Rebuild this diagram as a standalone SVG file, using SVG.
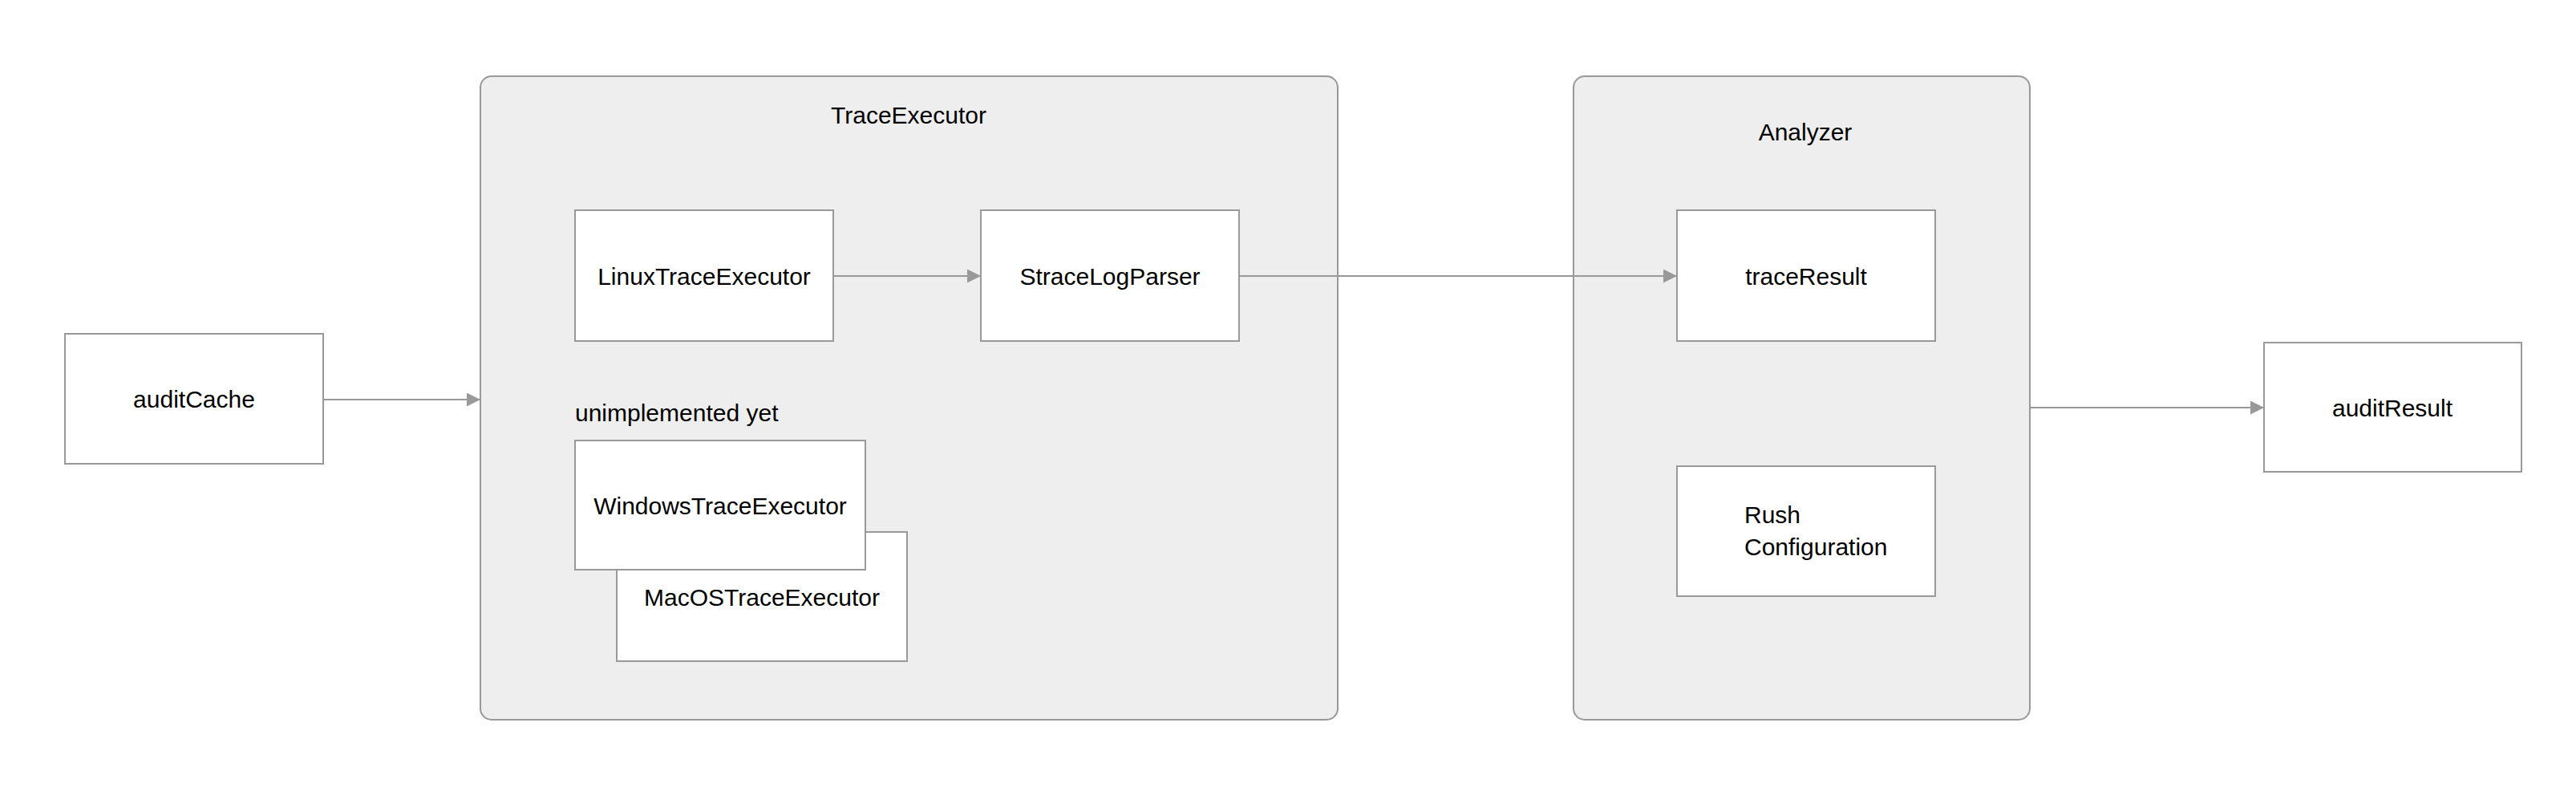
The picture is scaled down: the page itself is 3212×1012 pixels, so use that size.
<svg xmlns="http://www.w3.org/2000/svg" width="3212" height="1012" viewBox="0 0 3212 1012">
<style>
.bg{fill:#ffffff}
.container{fill:#eeeeee;stroke:#999999;stroke-width:2}
.box{fill:#ffffff;stroke:#999999;stroke-width:2}
.t{font-family:"Liberation Sans",Arial,sans-serif;font-size:30px;fill:#000000}
.c{text-anchor:middle}
.edge{stroke:#999999;stroke-width:2;fill:none}
</style>
<defs>
<marker id="arrow" markerUnits="userSpaceOnUse" markerWidth="18" markerHeight="18" refX="17" refY="8.5" orient="auto">
<path d="M0,0 L17,8.5 L0,17 z" fill="#999999"/>
</marker>
</defs>
<rect class="bg" x="0" y="0" width="3212" height="1012"/>
<g id="TraceExecutor">
<rect class="container" x="599" y="95" width="1069" height="802" rx="14" ry="14"/>
<text class="t c" x="1133" y="154">TraceExecutor</text>
</g>
<g id="Analyzer">
<rect class="container" x="1962" y="95" width="569" height="802" rx="14" ry="14"/>
<text class="t c" x="2251" y="175">Analyzer</text>
</g>
<g id="auditCache">
<rect class="box" x="81" y="416" width="322" height="162"/>
<text class="t c" x="242" y="508">auditCache</text>
</g>
<g id="LinuxTraceExecutor">
<rect class="box" x="717" y="262" width="322" height="163"/>
<text class="t c" x="878" y="355">LinuxTraceExecutor</text>
</g>
<g id="StraceLogParser">
<rect class="box" x="1223" y="262" width="322" height="163"/>
<text class="t c" x="1384" y="355">StraceLogParser</text>
</g>
<g id="unimplementedLabel">
<text class="t" x="717" y="525">unimplemented yet</text>
</g>
<g id="MacOSTraceExecutor">
<rect class="box" x="769" y="663" width="362" height="161"/>
<text class="t c" x="950" y="755">MacOSTraceExecutor</text>
</g>
<g id="WindowsTraceExecutor">
<rect class="box" x="717" y="549" width="362" height="161"/>
<text class="t c" x="898" y="641">WindowsTraceExecutor</text>
</g>
<g id="traceResult">
<rect class="box" x="2091" y="262" width="322" height="163"/>
<text class="t c" x="2252" y="355">traceResult</text>
</g>
<g id="RushConfiguration">
<rect class="box" x="2091" y="581" width="322" height="162"/>
<text class="t" x="2175" y="652">Rush</text>
<text class="t" x="2175" y="692">Configuration</text>
</g>
<g id="auditResult">
<rect class="box" x="2823" y="427" width="321" height="161"/>
<text class="t c" x="2983" y="519">auditResult</text>
</g>
<g id="connectors">
<line class="edge" x1="403" y1="498" x2="599" y2="498" marker-end="url(#arrow)"/>
<line class="edge" x1="1039" y1="344" x2="1223" y2="344" marker-end="url(#arrow)"/>
<line class="edge" x1="1545" y1="344" x2="2091" y2="344" marker-end="url(#arrow)"/>
<line class="edge" x1="2531" y1="508" x2="2823" y2="508" marker-end="url(#arrow)"/>
</g>
</svg>
